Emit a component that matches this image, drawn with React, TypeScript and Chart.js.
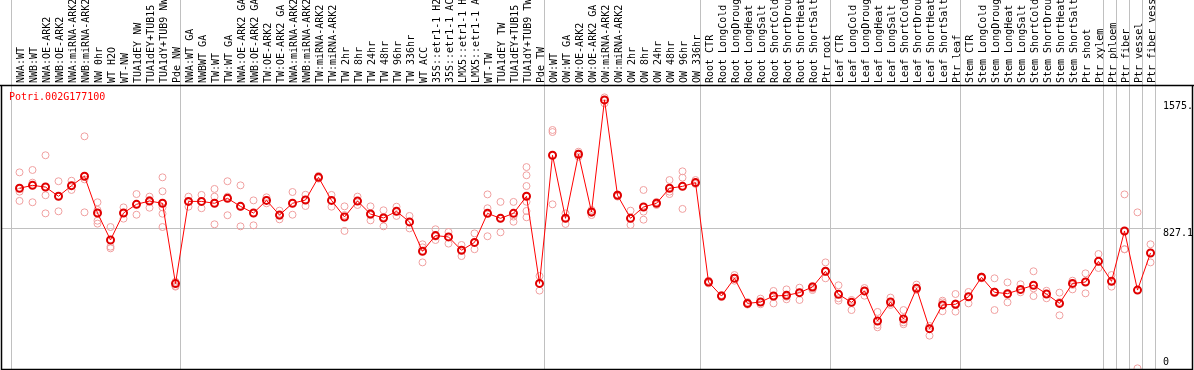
import { useEffect, useRef } from 'react';
import { Chart, registerables } from 'chart.js';

Chart.register(...registerables);

const geneTitle = 'Potri.002G177100';

const categories = [
  'NWA:WT', 'NWB:WT', 'NWA:OE-ARK2', 'NWB:OE-ARK2', 'NWA:miRNA-ARK2', 'NWB:miRNA-ARK2', 'NW 0hr', 'WT H2O', 'WT-NW', 'TUA1dEY NW', 'TUA1dEY+TUB15 NW', 'TUA1dY+TUB9 NW', 'Pde NW',
  'NWA:WT GA', 'NWBWT GA', 'TW:WT', 'TW:WT GA', 'NWA:OE-ARK2 GA', 'NWB:OE-ARK2 GA', 'TW:OE-ARK2', 'TW:OE-ARK2 GA', 'NWA:miRNA-ARK2 GA', 'NWB:miRNA-ARK2 GA', 'TW:miRNA-ARK2', 'TW:miRNA-ARK2 GA', 'TW 2hr', 'TW 8hr', 'TW 24hr', 'TW 48hr', 'TW 96hr', 'TW 336hr', 'WT ACC', '35S::etr1-1 H2O', '35S::etr1-1 ACC', 'LMX5::etr1-1 H2O', 'LMX5::etr1-1 ACC', 'WT-TW', 'TUA1dEY TW', 'TUA1dEY+TUB15 TW', 'TUA1dY+TUB9 TW', 'Pde TW',
  'OW:WT', 'OW:WT GA', 'OW:OE-ARK2', 'OW:OE-ARK2 GA', 'OW:miRNA-ARK2', 'OW:miRNA-ARK2 GA', 'OW 2hr', 'OW 8hr', 'OW 24hr', 'OW 48hr', 'OW 96hr', 'OW 336hr',
  'Root CTR', 'Root LongCold', 'Root LongDrought', 'Root LongHeat', 'Root LongSalt', 'Root ShortCold', 'Root ShortDrought', 'Root ShortHeat', 'Root ShortSalt', 'Ptr root',
  'Leaf CTR', 'Leaf LongCold', 'Leaf LongDrought', 'Leaf LongHeat', 'Leaf LongSalt', 'Leaf ShortCold', 'Leaf ShortDrought', 'Leaf ShortHeat', 'Leaf ShortSalt', 'Ptr leaf',
  'Stem CTR', 'Stem LongCold', 'Stem LongDrought', 'Stem LongHeat', 'Stem LongSalt', 'Stem ShortCold', 'Stem ShortDrought', 'Stem ShortHeat', 'Stem ShortSalt', 'Ptr shoot', 'Ptr xylem',
  'Ptr phloem', 'Ptr fiber', 'Ptr vessel', 'Ptr fiber vessel',
];

// category indices where a vertical separator is drawn
const groupBoundaries = [0, 13, 41, 53, 63, 73, 84, 85, 86, 87, 88];

const meanValues = [
  1058, 1075, 1065, 1011, 1073, 1128, 913, 755, 913, 964, 983, 970, 500,
  981, 981, 970, 999, 952, 913, 987, 901, 970, 989, 1122, 987, 890, 983, 907, 884, 923, 861, 689, 781, 773, 695, 741, 911, 882, 911, 1011, 501,
  1251, 882, 1257, 919, 1575, 1017, 882, 948, 970, 1058, 1069, 1091,
  509, 427, 531, 384, 392, 427, 431, 447, 480, 572,
  437, 390, 457, 281, 392, 293, 472, 236, 375, 379,
  423, 537, 449, 441, 466, 490, 439, 384, 501, 509, 630,
  513, 808, 462, 679,
];

const rep1 = [
  1151, 1165, 1251, 1099, 1102, 1362, 976, 831, 946, 1024, 1009, 1122, 511,
  1009, 1019, 1054, 1099, 1075, 987, 1005, 927, 1036, 1020, 1130, 1019, 952, 1009, 952, 929, 950, 896, 730, 818, 802, 726, 794, 1022, 978, 978, 1182, 544,
  1399, 911, 1272, 931, 1590, 1022, 927, 1048, 978, 1106, 1157, 1106,
  517, 433, 550, 392, 412, 457, 466, 476, 486, 624,
  490, 404, 474, 334, 418, 345, 494, 252, 400, 439,
  451, 541, 531, 507, 496, 572, 458, 447, 517, 560, 673,
  550, 1022, 917, 730,
];

const rep2 = [
  1038, 1091, 1017, 1011, 1071, 1110, 931, 716, 913, 964, 989, 1040, 486,
  981, 981, 1009, 1009, 950, 911, 989, 896, 970, 989, 1122, 989, 901, 983, 901, 890, 923, 861, 712, 775, 773, 697, 741, 941, 882, 892, 1134, 501,
  1387, 882, 1262, 915, 1575, 1017, 882, 921, 970, 1038, 1120, 1091,
  509, 427, 531, 384, 392, 423, 423, 447, 470, 568,
  414, 390, 453, 258, 384, 273, 472, 236, 390, 384,
  423, 537, 453, 433, 462, 472, 439, 392, 492, 511, 630,
  513, 701, 462, 679,
];

const rep3 = [
  984, 976, 911, 923, 1048, 917, 868, 706, 880, 903, 944, 946, 482,
  950, 941, 847, 900, 835, 841, 970, 876, 903, 954, 1114, 950, 808, 960, 870, 835, 896, 823, 624, 755, 734, 661, 701, 777, 800, 862, 1071, 459,
  964, 849, 1243, 901, 1555, 1009, 843, 874, 960, 1024, 937, 1083,
  501, 421, 517, 377, 379, 384, 408, 404, 462, 531,
  400, 345, 429, 244, 375, 262, 462, 195, 338, 336,
  384, 531, 345, 390, 449, 427, 414, 314, 466, 443, 591,
  482, 701, 4, 624,
];

// extra replicates (only a few samples have more than three)
const rep4 = categories.map((_, i) => (i === 6 ? 851 : i === 11 ? 909 : i === 39 ? 979 : null));
const rep5 = categories.map((_, i) => (i === 11 ? 831 : i === 39 ? 925 : null));
const rep6 = categories.map((_, i) => (i === 39 ? 888 : null));

const yTickValues = [0, 827.1, 1575];
const yTickLabels = ['0', '827.1', '1575.'];
const yGridValues = [827.1];
const yMax = 1656.5;

const X_OFF = 0.67;
const FONT = '10px "DejaVu Sans Mono", "Liberation Mono", monospace';

export default function App() {
  const ref = useRef<HTMLCanvasElement>(null);

  useEffect(() => {
    document.body.style.margin = '0';
    const canvas = ref.current!;
    const toXY = (arr: (number | null)[]) =>
      arr
        .map((v, i) => (v == null ? null : { x: i + X_OFF, y: v }))
        .filter((p) => p !== null) as { x: number; y: number }[];

    const repStyle = {
      type: 'scatter' as const,
      showLine: false,
      pointRadius: 3.5,
      pointBorderWidth: 1,
      pointBorderColor: '#f0a0a0',
      pointBackgroundColor: 'rgba(0,0,0,0)',
      order: 2,
    };

    const deco = {
      id: 'deco',
      beforeDatasetsDraw(chart: any) {
        const { ctx, chartArea: a, scales } = chart;
        const x = scales.x;
        const y = scales.y;
        ctx.save();
        ctx.strokeStyle = '#c0c0c0';
        ctx.lineWidth = 1;
        ctx.beginPath();
        for (const b of groupBoundaries) {
          const px = Math.round(x.getPixelForValue(b)) + 0.5;
          ctx.moveTo(px, 0);
          ctx.lineTo(px, a.bottom);
        }
        for (const t of yGridValues) {
          const py = Math.round(y.getPixelForValue(t)) + 0.5;
          ctx.moveTo(a.left, py);
          ctx.lineTo(a.right - 31, py);
        }
        ctx.stroke();
        ctx.restore();
      },
      afterDraw(chart: any) {
        const { ctx, chartArea: a, scales, width } = chart;
        const x = scales.x;
        const y = scales.y;
        ctx.save();
        // header labels
        ctx.fillStyle = '#000';
        ctx.font = FONT;
        ctx.textAlign = 'left';
        ctx.textBaseline = 'middle';
        categories.forEach((lab, i) => {
          const px = x.getPixelForValue(i + X_OFF);
          ctx.save();
          ctx.translate(px + 1.5, a.top - 3);
          ctx.rotate(-Math.PI / 2);
          ctx.fillText(lab, 0, 0);
          ctx.restore();
        });
        // borders
        ctx.strokeStyle = '#000';
        ctx.lineWidth = 1.5;
        ctx.beginPath();
        ctx.moveTo(0, a.top - 0.5);
        ctx.lineTo(width, a.top - 0.5);
        ctx.moveTo(a.left + 0.5, a.top - 0.5);
        ctx.lineTo(a.left + 0.5, a.bottom + 0.5);
        ctx.lineTo(a.right + 0.5, a.bottom + 0.5);
        ctx.lineTo(a.right + 0.5, a.top - 0.5);
        ctx.stroke();
        // y labels
        ctx.save();
        ctx.beginPath();
        ctx.rect(a.left, a.top, a.right - a.left, a.bottom - a.top);
        ctx.clip();
        ctx.fillStyle = '#000';
        yTickValues.forEach((v, i) => {
          const py = Math.min(y.getPixelForValue(v) + 6, a.bottom - 7);
          ctx.fillText(yTickLabels[i], a.right - 29, py);
        });
        ctx.restore();
        // title
        ctx.fillStyle = '#ff0000';
        ctx.fillText(geneTitle, 9, a.top + 11);
        ctx.restore();
      },
    };

    const chart = new Chart(canvas, {
      type: 'line',
      data: {
        datasets: [
          {
            type: 'line',
            data: toXY(meanValues),
            borderColor: '#ff0000',
            borderWidth: 1,
            pointRadius: 3.5,
            pointBorderWidth: 2,
            pointBorderColor: '#e00000',
            pointBackgroundColor: 'rgba(0,0,0,0)',
            tension: 0,
            order: 0,
          },
          { ...repStyle, data: toXY(rep1) },
          { ...repStyle, data: toXY(rep2) },
          { ...repStyle, data: toXY(rep3) },
          { ...repStyle, data: toXY(rep4) },
          { ...repStyle, data: toXY(rep5) },
          { ...repStyle, data: toXY(rep6) },
        ] as any,
      },
      options: {
        responsive: false,
        animation: false,
        devicePixelRatio: 1,
        layout: { autoPadding: false, padding: { left: 1, right: 2, top: 86, bottom: 1 } },
        scales: {
          x: { type: 'linear', min: (1 - 10.8) / 13, max: (1192 - 10.8) / 13, display: false },
          y: { type: 'linear', min: 0, max: yMax, display: false },
        },
        plugins: { legend: { display: false }, tooltip: { enabled: false } },
      },
      plugins: [deco],
    });
    return () => chart.destroy();
  }, []);

  return (
    <div style={{ position: 'fixed', left: 0, top: 0, width: 1194, height: 370, background: '#fff' }}>
      <canvas ref={ref} width={1194} height={370} style={{ display: 'block' }} />
    </div>
  );
}
